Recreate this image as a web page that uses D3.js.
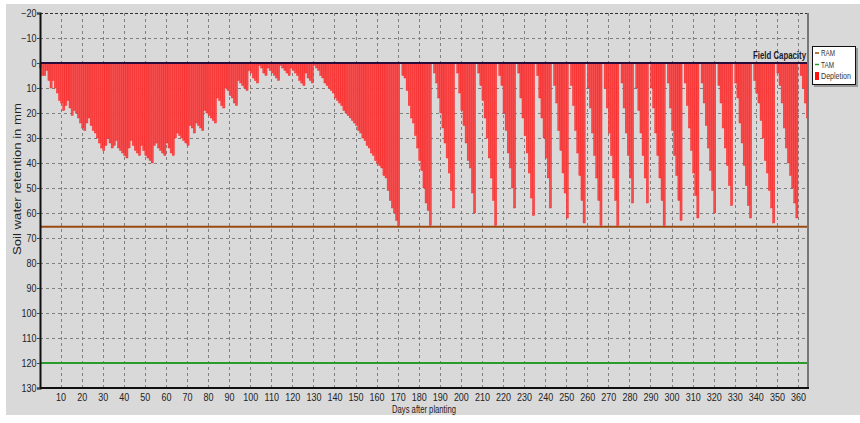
<!DOCTYPE html>
<html>
<head>
<meta charset="utf-8">
<script src="https://cdn.jsdelivr.net/npm/d3@7"></script>
<style>
  body { margin: 0; background: #ffffff; }
  #chart { width: 860px; height: 423px; }
  text { font-family: "Liberation Sans Narrow", "Arial Narrow", "Liberation Sans", Arial, sans-serif; }
</style>
</head>
<body>
<div id="chart"></div>
<script>
const width = 860;
const height = 423;

// daily depletion (mm) for days 1..365
const depletion = [
  2, 5, 5, 3, 7, 10, 7, 10, 12, 15,
  16, 19, 17, 15, 18, 21, 19, 20, 22, 24,
  26, 27, 24, 22, 25, 27, 28, 30, 32, 34,
  35, 33, 30, 32, 34, 33, 31, 34, 35, 36,
  37, 38, 34, 31, 33, 35, 36, 37, 33, 35,
  37, 38, 39, 40, 33, 32, 34, 35, 36, 37,
  32, 34, 36, 37, 30, 28, 29, 30, 31, 32,
  33, 25, 26, 28, 24, 25, 26, 27, 19, 20,
  21, 22, 23, 24, 14, 15, 17, 18, 10, 11,
  13, 14, 16, 17, 7, 8, 9, 10, 11, 3,
  4, 6, 7, 8, 1, 2, 4, 5, 2, 3,
  4, 5, 6, 7, 1, 2, 3, 4, 5, 2,
  3, 4, 5, 7, 8, 9, 4, 6, 7, 8,
  1, 2, 3, 5, 6, 8, 9, 10, 11, 12,
  14, 15, 16, 17, 19, 20, 21, 22, 23, 24,
  25, 27, 28, 30, 31, 33, 34, 36, 37, 39,
  40, 41, 42, 45, 46, 51, 55, 58, 60, 63, 65,
  0, 5, 6, 11, 17, 22, 24, 29, 34, 39, 43, 50, 56, 59, 65,
  0, 4, 8, 14, 20, 26, 32, 38, 44, 51, 58,
  0, 4, 12, 19, 25, 32, 39, 42, 52, 60,
  0, 4, 9, 15, 22, 30, 38, 46, 55, 65,
  0, 5, 9, 20, 27, 36, 42, 50, 58,
  0, 4, 14, 22, 29, 36, 44, 54, 61,
  0, 5, 14, 22, 30, 38, 46, 58,
  0, 9, 16, 27, 35, 44, 52, 62,
  0, 9, 17, 27, 36, 45, 55, 64,
  0, 10, 18, 28, 37, 46, 55, 65,
  0, 10, 18, 28, 37, 46, 55, 65,
  0, 8, 18, 28, 37, 46, 56,
  0, 10, 19, 28, 37, 46, 56,
  0, 10, 18, 28, 37, 46, 55, 65,
  0, 8, 18, 27, 37, 45, 55, 63,
  0, 8, 17, 26, 35, 44, 53, 62,
  0, 8, 16, 25, 34, 43, 51, 60,
  0, 9, 16, 26, 34, 41, 49, 57,
  0, 8, 14, 24, 32, 41, 49, 57, 62,
  0, 7, 12, 16, 23, 30, 39, 44, 51, 58, 64,
  0, 4, 9, 16, 26, 34, 40, 45, 50, 56, 62,
  0, 5, 10, 16, 22
];

const xTicks = d3.range(10, 361, 10);
const yTicks = d3.range(-20, 131, 10);
const fieldCapacity = 0;
const ramLevel = 65.5;
const tamLevel = 120;
const legendItems = ['RAM', 'TAM', 'Depletion'];
const legendColors = ['#9a4a10', '#2a9a2a', '#ff1010'];

function createChart() {
  const svg = d3.select('#chart')
    .append('svg')
    .attr('width', width)
    .attr('height', height);

  // grey panel
  svg.append('rect')
    .attr('x', 6).attr('y', 4)
    .attr('width', width - 6).attr('height', 411)
    .attr('fill', '#d9d9d9');

  const area = { left: 40, right: 808, top: 13, bottom: 388 };

  const xScale = d3.scaleLinear()
    .domain([0, 365])
    .range([39.5, 808.5]);

  const yScale = d3.scaleLinear()
    .domain([-20, 130])
    .range([area.top, area.bottom]);

  // gridlines
  const grid = svg.append('g').attr('class', 'grid')
    .attr('stroke', '#808080')
    .attr('stroke-width', 1)
    .attr('stroke-dasharray', '3,3');

  grid.selectAll('line.h')
    .data(yTicks.filter(d => d > -20 && d < 130))
    .join('line')
    .attr('class', 'h')
    .attr('x1', area.left).attr('x2', area.right)
    .attr('y1', d => Math.round(yScale(d)) + 0.5)
    .attr('y2', d => Math.round(yScale(d)) + 0.5);

  grid.selectAll('line.v')
    .data(xTicks)
    .join('line')
    .attr('class', 'v')
    .attr('y1', area.top).attr('y2', area.bottom)
    .attr('x1', d => Math.round(xScale(d)) + 0.5)
    .attr('x2', d => Math.round(xScale(d)) + 0.5);

  // depletion bars
  svg.append('g').attr('class', 'bars')
    .selectAll('rect')
    .data(depletion)
    .join('rect')
    .attr('x', (d, i) => xScale(i))
    .attr('width', (d, i) => xScale(i + 1) - xScale(i))
    .attr('y', yScale(0))
    .attr('height', d => yScale(d) - yScale(0))
    .attr('fill', '#f44e4e')
    .attr('stroke', '#ff1414')
    .attr('stroke-width', 0.4);

  // reference lines
  svg.append('line')
    .attr('x1', area.left).attr('x2', area.right)
    .attr('y1', yScale(ramLevel)).attr('y2', yScale(ramLevel))
    .attr('stroke', legendColors[0]).attr('stroke-width', 2);

  svg.append('line')
    .attr('x1', area.left).attr('x2', area.right)
    .attr('y1', yScale(tamLevel)).attr('y2', yScale(tamLevel))
    .attr('stroke', legendColors[1]).attr('stroke-width', 2);

  svg.append('line')
    .attr('x1', area.left).attr('x2', area.right)
    .attr('y1', yScale(fieldCapacity)).attr('y2', yScale(fieldCapacity))
    .attr('stroke', '#2a0c3a').attr('stroke-width', 2);

  svg.append('text')
    .attr('x', 753).attr('y', yScale(fieldCapacity) - 4)
    .attr('textLength', 53)
    .attr('lengthAdjust', 'spacingAndGlyphs')
    .attr('font-size', 10)
    .attr('font-weight', 'bold')
    .attr('fill', '#1a1a2a')
    .text('Field Capacity');

  // frame
  svg.append('line')
    .attr('x1', area.left).attr('x2', area.right)
    .attr('y1', area.top + 0.5).attr('y2', area.top + 0.5)
    .attr('stroke', '#333').attr('stroke-dasharray', '3,2');
  svg.append('line')
    .attr('x1', area.right).attr('x2', area.right)
    .attr('y1', area.top).attr('y2', area.bottom)
    .attr('stroke', '#777').attr('stroke-width', 2);
  svg.append('line')
    .attr('x1', area.left).attr('x2', area.right + 1)
    .attr('y1', area.bottom).attr('y2', area.bottom)
    .attr('stroke', '#111').attr('stroke-width', 2);

  // y axis
  const yAxis = d3.axisLeft(yScale)
    .tickValues(yTicks)
    .tickSize(3)
    .tickPadding(1);

  const yg = svg.append('g')
    .attr('transform', `translate(${area.left}, 0)`)
    .call(yAxis);
  yg.select('.domain').attr('stroke', '#111').attr('stroke-width', 2);
  yg.selectAll('.tick line').attr('stroke', '#444');
  yg.selectAll('text').attr('font-size', 10).attr('fill', '#222')
    .attr('font-family', '"Liberation Sans Narrow", "Liberation Sans", Arial, sans-serif')
    .attr('transform', 'scale(0.9, 1)');

  // x axis
  const xAxis = d3.axisBottom(xScale)
    .tickValues(xTicks)
    .tickSize(0)
    .tickPadding(6);

  const xg = svg.append('g')
    .attr('transform', `translate(0, ${area.bottom})`)
    .call(xAxis);
  xg.select('.domain').remove();
  xg.selectAll('text').attr('font-size', 10).attr('fill', '#222')
    .attr('font-family', '"Liberation Sans Narrow", "Liberation Sans", Arial, sans-serif')
    .attr('transform', 'scale(0.9, 1)');

  // axis titles
  svg.append('text')
    .attr('x', 392).attr('y', 413)
    .attr('textLength', 64)
    .attr('lengthAdjust', 'spacingAndGlyphs')
    .attr('font-size', 10)
    .attr('fill', '#222')
    .text('Days after planting');

  svg.append('text')
    .attr('transform', 'translate(21, 255) rotate(-90)')
    .attr('textLength', 152)
    .attr('lengthAdjust', 'spacingAndGlyphs')
    .attr('font-size', 10)
    .attr('fill', '#222')
    .text('Soil water retention in mm');

  // legend
  const legend = svg.append('g').attr('transform', 'translate(812, 46)');
  legend.append('rect')
    .attr('x', 2).attr('y', 2).attr('width', 44).attr('height', 39)
    .attr('fill', '#9a9a9a');
  legend.append('rect')
    .attr('x', 0.5).attr('y', 0.5).attr('width', 43).attr('height', 38)
    .attr('fill', '#fff').attr('stroke', '#111');

  const legendWidths = [14, 13, 30];
  legendItems.forEach((name, i) => {
    const cy = 7 + i * 11.5;
    if (i < 2) {
      legend.append('line')
        .attr('x1', 3).attr('x2', 7)
        .attr('y1', cy).attr('y2', cy)
        .attr('stroke', legendColors[i]).attr('stroke-width', 1.5);
    } else {
      legend.append('rect')
        .attr('x', 3).attr('y', cy - 4).attr('width', 4).attr('height', 8)
        .attr('fill', legendColors[i]);
    }
    legend.append('text')
      .attr('x', 9).attr('y', cy + 3)
      .attr('textLength', legendWidths[i])
      .attr('lengthAdjust', 'spacingAndGlyphs')
      .attr('font-size', 9)
      .attr('fill', '#333')
      .text(name);
  });
}

createChart();
</script>
</body>
</html>
